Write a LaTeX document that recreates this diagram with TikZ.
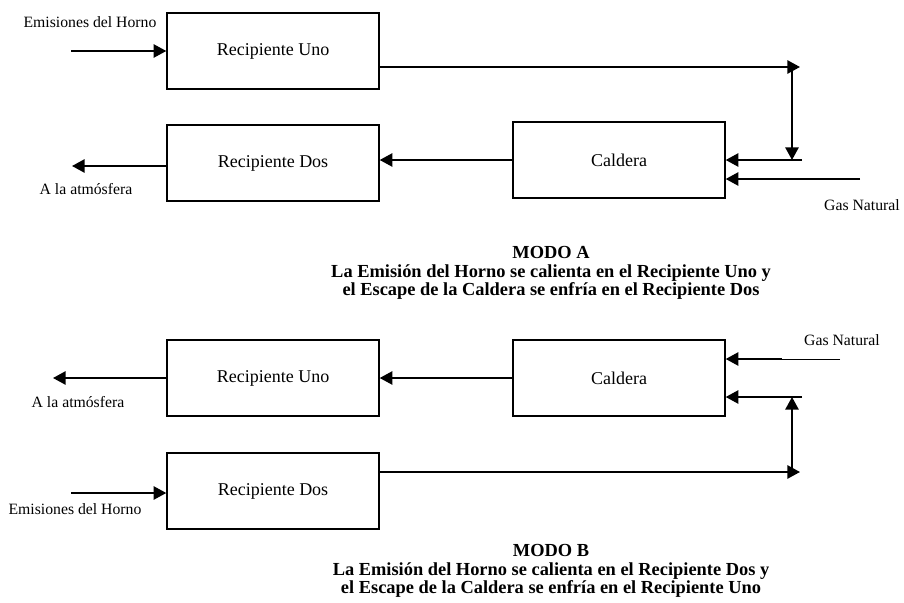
\documentclass[tikz,border=0pt]{standalone}
\usepackage{fontspec}
\setmainfont{Liberation Serif}
\usetikzlibrary{arrows.meta,positioning}

\begin{document}
\begin{tikzpicture}[
    x=0.75pt, y=-0.75pt,
    box/.style={rectangle, draw, line width=1.1pt, minimum width=159pt, minimum height=57pt, font=\fontsize{13.5}{16}\selectfont},
    arrow/.style={-{Triangle[length=9.5pt,width=10pt]}, line width=1.3pt},
    tag/.style={font=\fontsize{11.8}{14}\selectfont},
    titulo/.style={align=center, font=\fontsize{13.8}{13.9}\selectfont\bfseries}
]
\useasboundingbox (0,0) rectangle (904,603);

% Modo A
\node[box] (unoA) at (273,51) {Recipiente Uno};
\node[box] (dosA) at (273,163) {Recipiente Dos};
\node[box] (calA) at (619,160) {Caldera};

\node[tag] (emiA) at (90,22) {Emisiones del Horno};
\node[tag] (atmA) at (86,189) {A la atmósfera};
\node[tag] (gasA-txt) at (862,205) {Gas Natural};

\coordinate (inA) at (71,51);
\coordinate (topA) at (800,67);
\coordinate (vtopA) at (792,67);
\coordinate (vbotA) at (792,160);
\coordinate (retA) at (802,160);
\coordinate (gasA) at (860,179);
\coordinate (outA) at (72,166);

\draw[arrow] (inA) -- (unoA.west);
\draw[arrow] (unoA.east |- topA) -- (topA);
\draw[arrow] (vtopA) -- (vbotA);
\draw[arrow] (retA) -- (calA.east |- retA);
\draw[arrow] (gasA) -- (calA.east |- gasA);
\draw[arrow] (calA.west) -- (dosA.east |- calA.west);
\draw[arrow] (dosA.west |- outA) -- (outA);

\node[titulo] (tituloA) at (551,273) {MODO A\\La Emisión del Horno se calienta en el Recipiente Uno y\\el Escape de la Caldera se enfría en el Recipiente Dos};

% Modo B
\node[box] (unoB) at (273,378) {Recipiente Uno};
\node[box] (dosB) at (273,491) {Recipiente Dos};
\node[box] (calB) at (619,378) {Caldera};

\node[tag] (atmB) at (78,402) {A la atmósfera};
\node[tag] (emiB) at (75,509) {Emisiones del Horno};
\node[tag] (gasB-txt) at (842,340) {Gas Natural};

\coordinate (outB) at (53,378);
\coordinate (inB) at (71,493);
\coordinate (topB) at (800,472);
\coordinate (vbotB) at (792,472);
\coordinate (vtopB) at (792,397);
\coordinate (retB) at (802,397);
\coordinate (gasB) at (840,359);
\coordinate (gasB-mid) at (782,359);

\draw[arrow] (calB.west) -- (unoB.east);
\draw[arrow] (unoB.west) -- (outB);
\draw[arrow] (inB) -- (dosB.west |- inB);
\draw[arrow] (dosB.east |- topB) -- (topB);
\draw[arrow] (vbotB) -- (vtopB);
\draw[arrow] (retB) -- (calB.east |- retB);
\draw[line width=0.6pt] (gasB) -- (gasB-mid);
\draw[arrow] (gasB-mid) -- (calB.east |- gasB-mid);

\node[titulo] (tituloB) at (551,571) {MODO B\\La Emisión del Horno se calienta en el Recipiente Dos y\\el Escape de la Caldera se enfría en el Recipiente Uno};

\end{tikzpicture}
\end{document}
